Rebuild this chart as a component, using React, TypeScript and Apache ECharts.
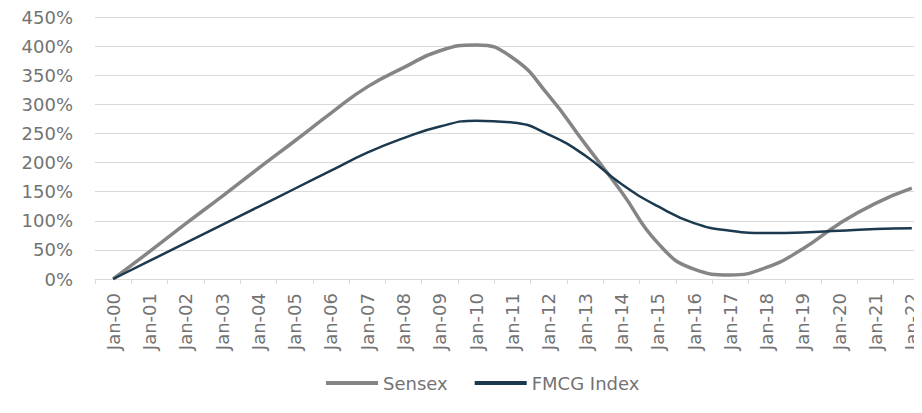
import React, { useEffect, useRef } from "react";
import * as echarts from "echarts";

const categories = [
  "Jan-00", "Jan-01", "Jan-02", "Jan-03", "Jan-04", "Jan-05", "Jan-06", "Jan-07",
  "Jan-08", "Jan-09", "Jan-10", "Jan-11", "Jan-12", "Jan-13", "Jan-14", "Jan-15",
  "Jan-16", "Jan-17", "Jan-18", "Jan-19", "Jan-20", "Jan-21", "Jan-22",
];

const sensex = [0, 47, 95, 142, 190, 237, 285, 330, 363, 392, 402, 380, 315, 232, 150, 62, 17, 7, 20, 52, 95, 130, 156];
const fmcg = [0, 31, 62, 93, 124, 155, 186, 217, 242, 262, 272, 269, 248, 212, 163, 125, 96, 83, 79, 80, 83, 86, 87];

const yMin = 0;
const yMax = 450;
const yInterval = 50;

const FONT = "DejaVu Sans";
const TEXT = "#737373";

export default function App() {
  const ref = useRef<HTMLDivElement>(null);
  useEffect(() => {
    if (!ref.current) return;
    const chart = echarts.init(ref.current, undefined, { renderer: "svg" });
    chart.setOption({
      animation: false,
      backgroundColor: "#ffffff",
      grid: { left: 87, right: -7, top: 8, bottom: 142, containLabel: false },
      legend: {
        left: 313,
        top: 361,
        itemWidth: 52,
        itemHeight: 4,
        itemGap: 27,
        icon: "rect",
        textStyle: { fontFamily: FONT, fontSize: 18, color: TEXT },
        data: ["Sensex", "FMCG Index"],
      },
      xAxis: {
        type: "category",
        data: categories,
        boundaryGap: true,
        axisLine: { show: true, lineStyle: { color: "#d9d9d9", width: 1 } },
        axisTick: { show: true, alignWithLabel: false, length: 5, lineStyle: { color: "#d9d9d9" } },
        axisLabel: {
          rotate: 90,
          interval: 0,
          margin: 14,
          fontFamily: FONT,
          fontSize: 18,
          color: TEXT,
        },
      },
      yAxis: {
        type: "value",
        min: yMin,
        max: yMax,
        interval: yInterval,
        axisLine: { show: false },
        axisTick: { show: false },
        splitLine: { lineStyle: { color: "#d9d9d9", width: 1 } },
        axisLabel: {
          formatter: "{value}%",
          margin: 22,
          fontFamily: FONT,
          fontSize: 18,
          color: TEXT,
        },
      },
      series: [
        {
          name: "Sensex",
          type: "line",
          data: sensex,
          smooth: 0.5,
          symbol: "none",
          lineStyle: { color: "#858585", width: 3.5 },
          itemStyle: { color: "#858585" },
        },
        {
          name: "FMCG Index",
          type: "line",
          data: fmcg,
          smooth: 0.5,
          symbol: "none",
          lineStyle: { color: "#1b3a4f", width: 2.5 },
          itemStyle: { color: "#1b3a4f" },
        },
      ],
    });
    return () => chart.dispose();
  }, []);
  return <div ref={ref} style={{ width: 922, height: 413 }} />;
}
